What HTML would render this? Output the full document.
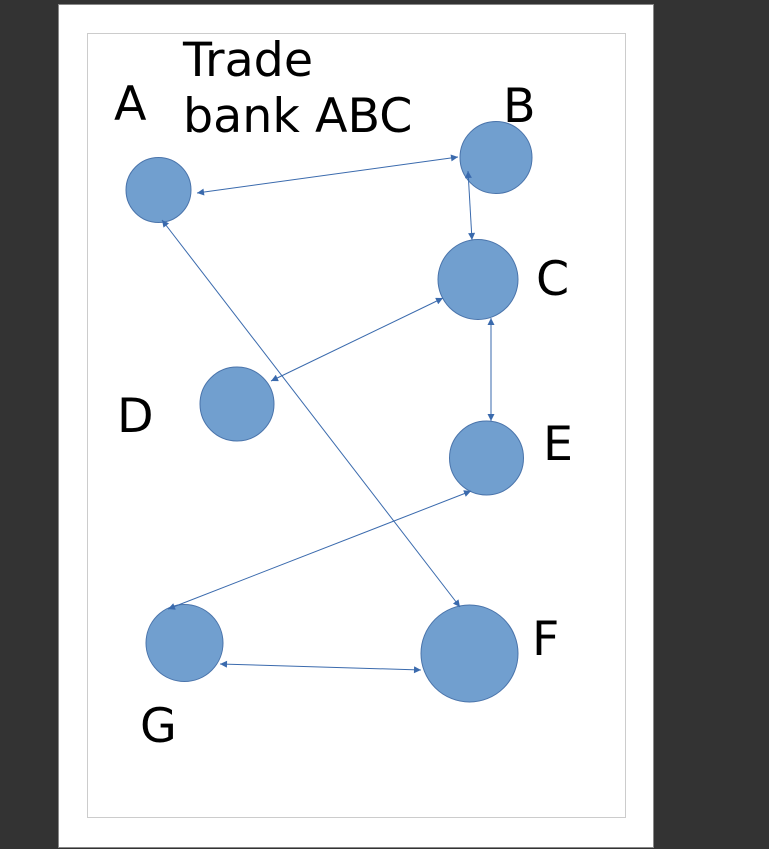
<!DOCTYPE html>
<html><head><style>
html,body{margin:0;padding:0;background:#333;width:769px;height:849px;overflow:hidden}
svg{display:block}
text{font-family:"DejaVu Sans","Liberation Sans",sans-serif;font-size:47.5px;fill:#000}
</style></head><body>
<svg width="769" height="849" viewBox="0 0 769 849">
<defs>
<marker id="m" viewBox="0 0 10 10" refX="10" refY="5" markerWidth="10" markerHeight="7" markerUnits="userSpaceOnUse" orient="auto-start-reverse">
<path d="M0,0 L10,5 L0,10 z" fill="#3a6aad"/></marker>
</defs>
<rect x="58.5" y="4.5" width="595" height="843" fill="#fff" stroke="#888"/>
<rect x="87.5" y="33.5" width="538" height="784" fill="#fff" stroke="#ccc"/>
<g fill="#719fcf" stroke="#4a74ab" stroke-width="1">
<circle cx="158.5" cy="190" r="32.5"/>
<circle cx="496" cy="157.5" r="36"/>
<circle cx="478" cy="279.5" r="40"/>
<circle cx="237" cy="404" r="37"/>
<circle cx="486.5" cy="458" r="37"/>
<circle cx="184.5" cy="643" r="38.5"/>
<circle cx="469.5" cy="653.5" r="48.5"/>
</g>
<g stroke="#3a6aad" stroke-width="1" marker-start="url(#m)" marker-end="url(#m)">
<line x1="197" y1="193" x2="458" y2="157"/>
<line x1="468" y1="171" x2="472" y2="240"/>
<line x1="443" y1="298" x2="271" y2="381"/>
<line x1="491" y1="318" x2="491" y2="421"/>
<line x1="162" y1="220" x2="460" y2="607"/>
<line x1="471" y1="491" x2="168" y2="609"/>
<line x1="220" y1="664" x2="421" y2="670"/>
</g>
<text x="114" y="120">A</text>
<text x="183" y="76">Trade</text>
<text x="183" y="132">bank ABC</text>
<text x="503" y="122">B</text>
<text x="536" y="295">C</text>
<text x="117" y="432">D</text>
<text x="543" y="460">E</text>
<text x="532" y="655">F</text>
<text x="140" y="742">G</text>
</svg>
</body></html>
